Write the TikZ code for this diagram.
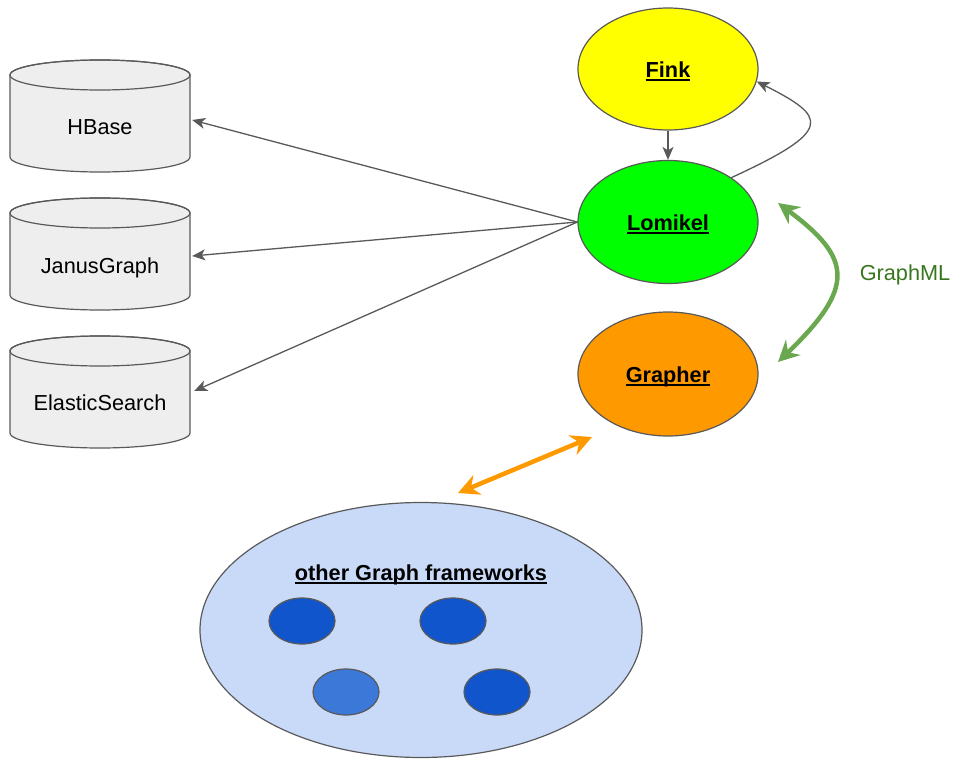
\documentclass[tikz,border=0pt]{standalone}
\usepackage{fontspec}
\setmainfont{Liberation Sans}
\usetikzlibrary{shapes.geometric,arrows.meta}
\definecolor{edgegray}{HTML}{595959}
\definecolor{cylfill}{HTML}{EEEEEE}
\definecolor{finkfill}{HTML}{FFFF00}
\definecolor{lomfill}{HTML}{00FF00}
\definecolor{grafill}{HTML}{FF9900}
\definecolor{bigfill}{HTML}{C9DAF8}
\definecolor{darkblue}{HTML}{1155CC}
\definecolor{lightblue}{HTML}{3C78D8}
\definecolor{gmlgreen}{HTML}{6AA84F}
\definecolor{gmltext}{HTML}{38761D}
\definecolor{arrorange}{HTML}{FF9900}
\newsavebox{\myulbox}
\newcommand{\myul}[1]{\sbox{\myulbox}{#1}\rlap{\rule[-3.2pt]{\wd\myulbox}{1.7pt}}\usebox{\myulbox}}
\newcommand{\dbcyl}[1]{%
  \filldraw[fill=cylfill, draw=edgegray, line width=1.2pt]
    (10,#1+15) -- (10,#1+97)
    arc[start angle=180, end angle=0, x radius=90, y radius=15]
    -- (190,#1+15)
    arc[start angle=0, end angle=-180, x radius=90, y radius=15] -- cycle;
  \draw[draw=edgegray, line width=1.2pt] (100,#1+15) ellipse[x radius=90, y radius=15];}
\tikzset{bigtip/.tip={Stealth[length=21pt, width=21pt, inset=7pt]}}
\begin{document}
\begin{tikzpicture}[x=1pt, y=-1pt,
  lbl/.style={font=\fontsize{21.7}{26}\selectfont, inner sep=0pt, text height=15.5pt, text depth=0pt},
  blbl/.style={font=\fontsize{21.7}{26}\selectfont\bfseries, text height=18pt, text depth=1pt},
  blob/.style={ellipse, draw=edgegray, line width=1.2pt, inner sep=0pt},
  conn/.style={draw=edgegray, line width=1.3pt, -{Stealth[length=13pt, width=11pt, inset=3.5pt]}}]
\useasboundingbox (0,0) rectangle (956,760);

% cylinders
\dbcyl{60}
\dbcyl{198}
\dbcyl{336}
\node[lbl, minimum width=184pt] (hbase) at (100,127) {HBase};
\node[lbl, minimum width=184pt] (janus) at (100,266) {JanusGraph};
\node[lbl, minimum width=188pt] (elastic) at (100,403) {ElasticSearch};

% main ellipses
\node[blob, fill=finkfill, minimum width=180pt, minimum height=122pt, blbl] (fink) at (668,69) {\myul{Fink}};
\node[blob, fill=lomfill, minimum width=180pt, minimum height=123pt, blbl] (lomikel) at (668,222) {\myul{Lomikel}};
\node[blob, fill=grafill, minimum width=180pt, minimum height=124pt, blbl] (grapher) at (668,374) {\myul{Grapher}};

% other frameworks
\node[blob, fill=bigfill, minimum width=442pt, minimum height=255pt] (others) at (421,630) {};
\node[blbl] (otitle) at (421,572) {\myul{other Graph frameworks}};
\node[blob, fill=darkblue, minimum width=66pt, minimum height=46pt] (s1) at (302,621) {};
\node[blob, fill=darkblue, minimum width=66pt, minimum height=46pt] (s2) at (453,621) {};
\node[blob, fill=lightblue, minimum width=66pt, minimum height=46pt] (s3) at (346,692) {};
\node[blob, fill=darkblue, minimum width=66pt, minimum height=46pt] (s4) at (497,692) {};

% connectors from Lomikel
\draw[conn] (lomikel.west) -- ([yshift=7pt]hbase.east);
\draw[conn] (lomikel.west) -- ([yshift=10pt]janus.east);
\draw[conn] (lomikel.west) -- ([yshift=12pt]elastic.east);
\draw[conn] (fink.south) -- (lomikel.north);
\draw[conn] (lomikel.35) .. controls (835,130) and (827,117) .. (fink.-8);

% GraphML
\coordinate (gtop) at (778,203);
\coordinate (gbot) at (778,362);
\draw[gmlgreen, line width=4.5pt, bigtip-bigtip] (gtop) .. controls (852,258) and (856,287) .. (gbot);
\node[font=\fontsize{21.7}{26}\selectfont, text=gmltext] (gml) at (905,275) {GraphML};

% orange connector
\coordinate (oa) at (458,493);
\coordinate (ob) at (592,437);
\draw[arrorange, line width=4.5pt, bigtip-bigtip] (oa) -- (ob);
\end{tikzpicture}
\end{document}
